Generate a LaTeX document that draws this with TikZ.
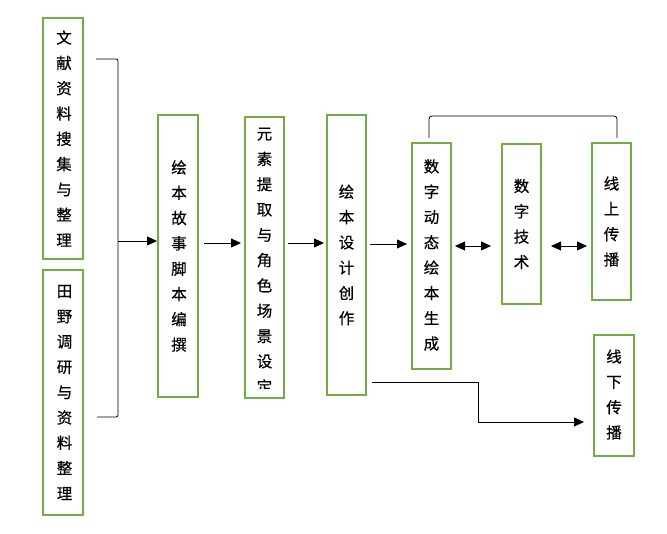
\documentclass[tikz,border=0pt]{standalone}
\usepackage{fontspec}
\newfontfamily\cjk[FakeBold=0.5]{Noto Sans CJK SC}
\usetikzlibrary{arrows.meta}
\definecolor{boxgreen}{HTML}{70AD47}
\tikzset{
  gbox/.style={draw=boxgreen, line width=2pt, inner sep=0pt, fill=white},
  vtext/.style={font=\cjk\fontsize{15.5}{25.3}\selectfont, align=center, inner sep=0pt},
  conn/.style={line width=0.8pt, draw=black},
  arr/.style={conn, -{Triangle[length=10pt,width=9pt]}},
  darr/.style={conn, {Triangle[length=10pt,width=9pt]}-{Triangle[length=10pt,width=9pt]}}
}
\begin{document}
\begin{tikzpicture}[x=1pt,y=-1pt]
\fill[white] (0,0) rectangle (667,534);
\useasboundingbox (0,0) rectangle (667,534);

% boxes
\node[gbox, minimum width=40, minimum height=241] (b1) at (62.5,138.5) {};
\node[gbox, minimum width=40, minimum height=245] (b2) at (63,392.5) {};
\node[gbox, minimum width=40, minimum height=282] (b3) at (178,256) {};
\node[gbox, minimum width=39, minimum height=281] (b4) at (264.5,257.5) {};
\node[gbox, minimum width=39, minimum height=280] (b5) at (346.5,255) {};
\node[gbox, minimum width=39, minimum height=226] (b6) at (431.5,256) {};
\node[gbox, minimum width=39, minimum height=160] (b7) at (521.5,224) {};
\node[gbox, minimum width=39, minimum height=157] (b8) at (611.5,221.5) {};
\node[gbox, minimum width=40, minimum height=121] (b9) at (614,395.5) {};

% texts
\node[vtext] (t1) at ([xshift=1.5pt]b1.center) {文\\献\\资\\料\\搜\\集\\与\\整\\理};
\node[vtext] (t2) at ([xshift=1.5pt]b2.center) {田\\野\\调\\研\\与\\资\\料\\整\\理};
\node[vtext] (t3) at ([xshift=1pt]b3.center) {绘\\本\\故\\事\\脚\\本\\编\\撰};
\begin{scope}
  \clip (246,118) rectangle (283,389);
  \node[vtext, anchor=north] (t4) at (264.5,127.5) {元\\素\\提\\取\\与\\角\\色\\场\\景\\设\\定};
\end{scope}
\node[vtext] (t5) at (b5.center) {绘\\本\\设\\计\\创\\作};
\node[vtext] (t6) at ([yshift=1pt]b6.center) {数\\字\\动\\态\\绘\\本\\生\\成};
\node[vtext] (t7) at (b7.center) {数\\字\\技\\术};
\node[vtext] (t8) at (b8.center) {线\\上\\传\\播};
\node[vtext] (t9) at ([yshift=1pt]b9.center) {线\\下\\传\\播};

% left bracket
\coordinate (bt) at (96,59);
\coordinate (bb) at (97,417);
\coordinate (bj) at (118,241);
\draw[conn, rounded corners=2pt] (bt) -- (118,59) -- (118,417) -- (bb);
\draw[arr] (bj) -- (b3.west |- bj);

% main chain
\coordinate (row) at (0,243);
\draw[arr, shorten <=5pt, shorten >=3pt] (b3.east |- row) -- (b4.west |- row);
\draw[arr, shorten <=3pt, shorten >=2pt] (b4.east |- row) -- (b5.west |- row);
\coordinate (row2) at (0,244);
\draw[arr, shorten <=3pt, shorten >=4pt] (b5.east |- row2) -- (b6.west |- row2);
\coordinate (row3) at (0,246);
\draw[darr, shorten <=3pt, shorten >=10pt] (b6.east |- row3) -- (b7.west |- row3);
\draw[darr, shorten <=9pt, shorten >=4pt] (b7.east |- row3) -- (b8.west |- row3);

% top bracket
\coordinate (tl) at (429,138);
\coordinate (tr) at (617,138);
\draw[conn, rounded corners=3pt] (tl) -- (429,116) -- (617,116) -- (tr);

% elbow to offline
\coordinate (e0) at (372,382);
\coordinate (row4) at (0,422);
\draw[arr, shorten >=9pt] (e0) -| (478,422) -- (b9.west |- row4);
\end{tikzpicture}
\end{document}
